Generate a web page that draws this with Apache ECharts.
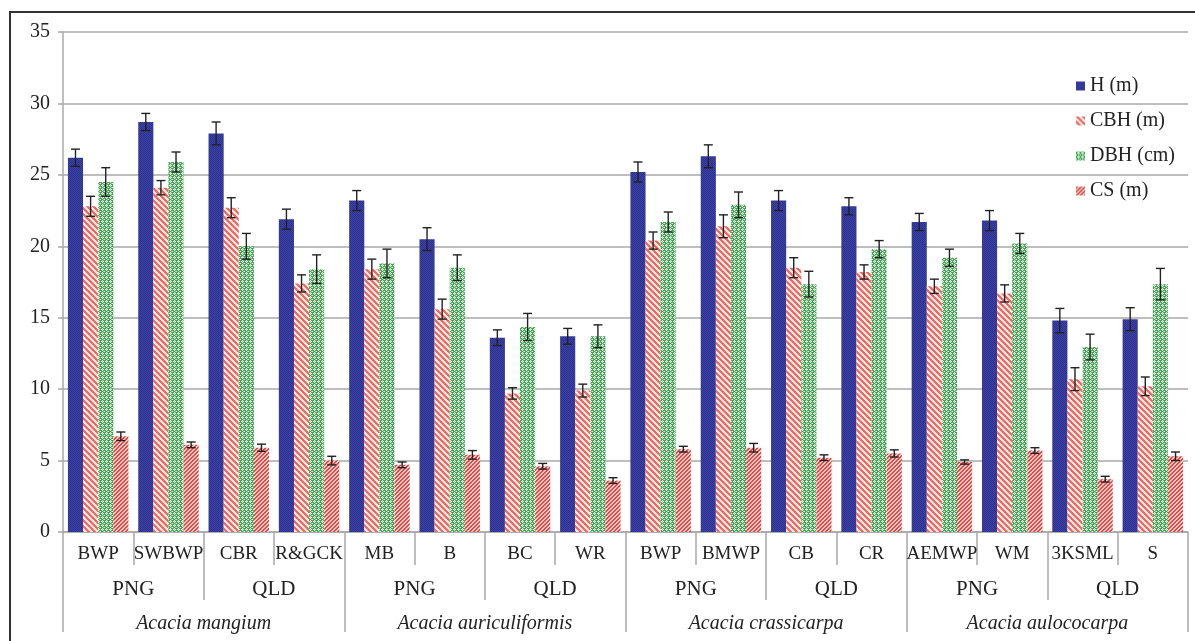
<!DOCTYPE html>
<html>
<head>
<meta charset="utf-8">
<script src="https://cdn.jsdelivr.net/npm/echarts@6/dist/echarts.min.js"></script>
<style>
html,body{margin:0;padding:0;background:#fff;}
#chart{width:1195px;height:641px;}
</style>
</head>
<body>
<div id="chart"></div>
<script>
// ---- data ----
const categories = ['BWP','SWBWP','CBR','R&GCK','MB','B','BC','WR','BWP','BMWP','CB','CR','AEMWP','WM','3KSML','S'];
const regions = ['PNG','QLD','PNG','QLD','PNG','QLD','PNG','QLD'];
const species = ['Acacia mangium','Acacia auriculiformis','Acacia crassicarpa','Acacia aulococarpa'];
const yTicks = [0,5,10,15,20,25,30,35];
const seriesNames = ['H (m)','CBH (m)','DBH (cm)','CS (m)'];

const H     = [26.2,28.7,27.9,21.9,23.2,20.5,13.6,13.7,25.2,26.3,23.2,22.8,21.7,21.8,14.8,14.9];
const H_err = [0.6,0.6,0.8,0.7,0.7,0.8,0.55,0.55,0.7,0.8,0.7,0.6,0.6,0.7,0.85,0.8];
const CBH     = [22.8,24.1,22.7,17.4,18.4,15.6,9.7,9.9,20.4,21.4,18.5,18.2,17.2,16.7,10.7,10.2];
const CBH_err = [0.7,0.5,0.7,0.6,0.7,0.7,0.4,0.45,0.6,0.8,0.7,0.5,0.5,0.6,0.8,0.65];
const DBH     = [24.5,25.9,20.0,18.4,18.8,18.5,14.35,13.7,21.7,22.9,17.35,19.8,19.2,20.2,12.95,17.35];
const DBH_err = [1.0,0.7,0.9,1.0,1.0,0.9,0.95,0.8,0.7,0.9,0.9,0.6,0.6,0.7,0.9,1.1];
const CS     = [6.7,6.1,5.9,5.0,4.7,5.4,4.6,3.6,5.8,5.9,5.2,5.5,4.9,5.7,3.7,5.3];
const CS_err = [0.3,0.2,0.25,0.3,0.2,0.3,0.2,0.2,0.2,0.3,0.2,0.25,0.15,0.2,0.2,0.3];

const values = [H, CBH, DBH, CS];
const errors = [H_err, CBH_err, DBH_err, CS_err];

// ---- patterns ----
function pixelPattern(w, h, fn) {
  const c = document.createElement('canvas');
  c.width = w; c.height = h;
  const ctx = c.getContext('2d');
  for (let y = 0; y < h; y++) for (let x = 0; x < w; x++) {
    ctx.fillStyle = fn(x, y);
    ctx.fillRect(x, y, 1, 1);
  }
  return c;
}
const patH = pixelPattern(4, 4, (x, y) => ((x + y) % 2 === 0 ? '#2D3190' : '#3C42A4'));
const patCBH = pixelPattern(6, 6, (x, y) => (((x - y + 60) % 6) < 3 ? '#EE6B66' : '#FFE4E0'));
const dbhMap = ['GGWG','GWLW','GGWG','WGGL'];
const patDBH = pixelPattern(4, 4, (x, y) => {
  const k = dbhMap[y][x];
  return k === 'G' ? '#42A552' : (k === 'L' ? '#9ED3A5' : '#F2FBF2');
});
const patCS = pixelPattern(4, 4, (x, y) => (((x + y) % 4) < 2 ? '#DE4B4B' : '#F8C8C2'));
const patterns = [patH, patCBH, patDBH, patCS];

const CAT_GAP = 0.14;
const FONT = '"Liberation Serif", "Times New Roman", serif';

function errRender(si) {
  return function (params, api) {
    const ci = api.value(0), v = api.value(1), e = api.value(2);
    const top = api.coord([ci, v + e]);
    const bot = api.coord([ci, v - e]);
    const band = api.size([1, 0])[0];
    const bw = band * (1 - CAT_GAP) / 4;
    const x = top[0] - 2 * bw + (si + 0.5) * bw;
    const cap = 4.5;
    const style = { stroke: '#222', lineWidth: 1.4 };
    return {
      type: 'group',
      children: [
        { type: 'line', shape: { x1: x, y1: top[1], x2: x, y2: bot[1] }, style },
        { type: 'line', shape: { x1: x - cap, y1: top[1], x2: x + cap, y2: top[1] }, style },
        { type: 'line', shape: { x1: x - cap, y1: bot[1], x2: x + cap, y2: bot[1] }, style }
      ]
    };
  };
}

const series = [];
seriesNames.forEach((name, si) => {
  series.push({
    name, type: 'bar', xAxisIndex: 0, yAxisIndex: 0,
    data: values[si],
    barGap: '0%', barCategoryGap: (CAT_GAP * 100) + '%',
    itemStyle: { color: { image: patterns[si], repeat: 'repeat' } },
    emphasis: { disabled: true },
    animation: false
  });
});
seriesNames.forEach((name, si) => {
  series.push({
    name: 'err' + si, type: 'custom', xAxisIndex: 0, yAxisIndex: 0,
    renderItem: errRender(si),
    data: values[si].map((v, i) => [i, v, errors[si][i]]),
    z: 10, animation: false, silent: true
  });
});

const gray = '#A8A8A8';
const option = {
  backgroundColor: '#fff',
  animation: false,
  graphic: [{
    type: 'rect', shape: { x: 10, y: 12, width: 1300, height: 800 },
    style: { fill: 'none', stroke: '#333', lineWidth: 2 }, silent: true, z: 100
  }],
  legend: {
    orient: 'vertical', left: 1071, top: 71,
    data: seriesNames, icon: 'rect', itemWidth: 9, itemHeight: 9, itemGap: 15,
    textStyle: { fontFamily: FONT, fontSize: 20, color: '#222' }
  },
  grid: { left: 63, right: 7, top: 32, bottom: 109, containLabel: false },
  xAxis: [
    {
      type: 'category', data: categories, position: 'bottom',
      axisLine: { show: true, lineStyle: { color: gray, width: 1.5 } },
      axisTick: { show: true, length: 33, interval: 0, lineStyle: { color: gray, width: 1.5 } },
      axisLabel: { interval: 0, margin: 13, fontFamily: FONT, fontSize: 19, color: '#222' },
      splitLine: { show: false }
    },
    {
      type: 'category', data: regions, position: 'bottom', offset: 0,
      axisLine: { show: false },
      axisTick: { show: true, length: 68, interval: 0, lineStyle: { color: gray, width: 1.5 } },
      axisLabel: { interval: 0, margin: 47, fontFamily: FONT, fontSize: 21, color: '#222' },
      splitLine: { show: false }
    },
    {
      type: 'category', data: species, position: 'bottom', offset: 0,
      axisLine: { show: false },
      axisTick: { show: true, length: 100, interval: 0, lineStyle: { color: gray, width: 1.5 } },
      axisLabel: { interval: 0, margin: 82, fontFamily: FONT, fontSize: 20, fontStyle: 'italic', color: '#222' },
      splitLine: { show: false }
    }
  ],
  yAxis: {
    type: 'value', min: yTicks[0], max: yTicks[yTicks.length - 1], interval: 5,
    axisLine: { show: true, lineStyle: { color: gray, width: 1.5 } },
    axisTick: { show: true, length: 5, lineStyle: { color: gray, width: 1.5 } },
    axisLabel: { margin: 13, fontFamily: FONT, fontSize: 20, color: '#222' },
    splitLine: { show: true, lineStyle: { color: gray, width: 1.5 } }
  },
  series
};

const chart = echarts.init(document.getElementById('chart'), null, { renderer: 'canvas' });
chart.setOption(option);
</script>
</body>
</html>
